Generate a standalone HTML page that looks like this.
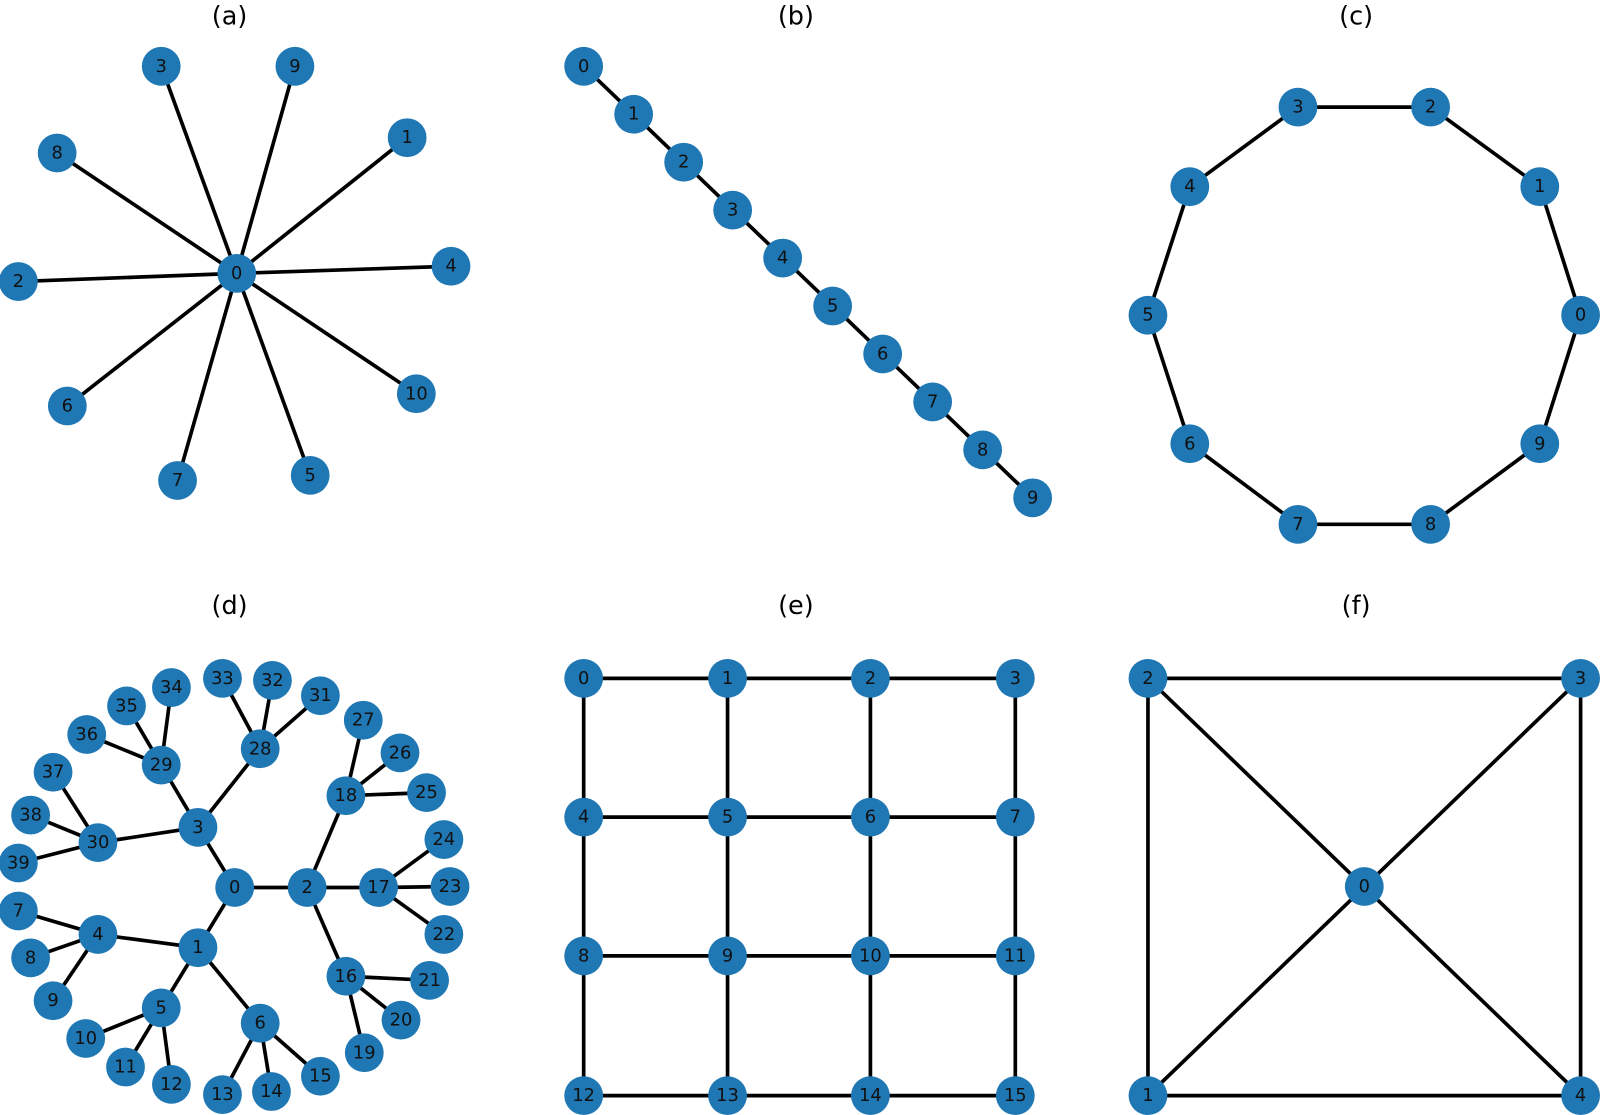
<!DOCTYPE html>
<html><head><meta charset="utf-8"><style>
html,body{margin:0;padding:0;background:#fff;}
svg{display:block;}
.e line{stroke:#000;stroke-width:3.6;}
.n circle{fill:#1f77b4;}
.n text{font-family:"DejaVu Sans","Liberation Sans",sans-serif;font-size:17.5px;fill:#111;text-anchor:middle;dominant-baseline:central;}
.t{font-family:"DejaVu Sans","Liberation Sans",sans-serif;font-size:25px;fill:#000;text-anchor:middle;}
</style></head><body>
<svg width="1600" height="1115" viewBox="0 0 1568 1093" preserveAspectRatio="none" xmlns="http://www.w3.org/2000/svg">
<rect width="1568" height="1093" fill="#fff"/>
<text class="t" x="225" y="24">(a)</text>
<text class="t" x="780" y="24">(b)</text>
<text class="t" x="1329" y="24">(c)</text>
<text class="t" x="225" y="602">(d)</text>
<text class="t" x="780" y="602">(e)</text>
<text class="t" x="1329" y="602">(f)</text>
<g class="e">
<line x1="232" y1="268" x2="158" y2="65"/><line x1="232" y1="268" x2="289" y2="65"/><line x1="232" y1="268" x2="399" y2="135"/><line x1="232" y1="268" x2="56" y2="150"/><line x1="232" y1="268" x2="18" y2="276"/><line x1="232" y1="268" x2="442" y2="261"/><line x1="232" y1="268" x2="66" y2="398"/><line x1="232" y1="268" x2="408" y2="386"/><line x1="232" y1="268" x2="174" y2="471"/><line x1="232" y1="268" x2="304" y2="466"/>
<line x1="572" y1="65" x2="1012" y2="488"/>
<line x1="1549" y1="309" x2="1509" y2="183"/><line x1="1509" y1="183" x2="1402" y2="105"/><line x1="1402" y1="105" x2="1272" y2="105"/><line x1="1272" y1="105" x2="1166" y2="183"/><line x1="1166" y1="183" x2="1125" y2="309"/><line x1="1125" y1="309" x2="1166" y2="435"/><line x1="1166" y1="435" x2="1272" y2="514"/><line x1="1272" y1="514" x2="1402" y2="514"/><line x1="1402" y1="514" x2="1509" y2="435"/><line x1="1509" y1="435" x2="1549" y2="309"/>
<line x1="230" y1="870" x2="194" y2="929"/><line x1="230" y1="870" x2="301" y2="870"/><line x1="230" y1="870" x2="194" y2="811"/>
<line x1="194" y1="929" x2="96" y2="916"/><line x1="194" y1="929" x2="158" y2="988"/><line x1="194" y1="929" x2="255" y2="1003"/>
<line x1="96" y1="916" x2="18" y2="893"/><line x1="96" y1="916" x2="30" y2="939"/><line x1="96" y1="916" x2="52" y2="981"/>
<line x1="158" y1="988" x2="84" y2="1018"/><line x1="158" y1="988" x2="123" y2="1046"/><line x1="158" y1="988" x2="168" y2="1063"/>
<line x1="255" y1="1003" x2="218" y2="1073"/><line x1="255" y1="1003" x2="266" y2="1070"/><line x1="255" y1="1003" x2="314" y2="1055"/>
<line x1="301" y1="870" x2="339" y2="957"/><line x1="301" y1="870" x2="371" y2="870"/><line x1="301" y1="870" x2="339" y2="780"/>
<line x1="339" y1="957" x2="357" y2="1032"/><line x1="339" y1="957" x2="393" y2="1000"/><line x1="339" y1="957" x2="421" y2="961"/>
<line x1="371" y1="870" x2="435" y2="916"/><line x1="371" y1="870" x2="441" y2="869"/><line x1="371" y1="870" x2="435" y2="823"/>
<line x1="339" y1="780" x2="418" y2="777"/><line x1="339" y1="780" x2="392" y2="738"/><line x1="339" y1="780" x2="356" y2="706"/>
<line x1="194" y1="811" x2="255" y2="734"/><line x1="194" y1="811" x2="158" y2="750"/><line x1="194" y1="811" x2="96" y2="826"/>
<line x1="255" y1="734" x2="314" y2="682"/><line x1="255" y1="734" x2="267" y2="667"/><line x1="255" y1="734" x2="218" y2="665"/>
<line x1="158" y1="750" x2="168" y2="674"/><line x1="158" y1="750" x2="124" y2="692"/><line x1="158" y1="750" x2="85" y2="720"/>
<line x1="96" y1="826" x2="52" y2="757"/><line x1="96" y1="826" x2="30" y2="799"/><line x1="96" y1="826" x2="18" y2="846"/>
<line x1="572" y1="665" x2="995" y2="665"/><line x1="572" y1="801" x2="995" y2="801"/><line x1="572" y1="937" x2="995" y2="937"/><line x1="572" y1="1074" x2="995" y2="1074"/>
<line x1="572" y1="665" x2="572" y2="1074"/><line x1="713" y1="665" x2="713" y2="1074"/><line x1="853" y1="665" x2="853" y2="1074"/><line x1="995" y1="665" x2="995" y2="1074"/>
<line x1="1125" y1="665" x2="1549" y2="665"/><line x1="1125" y1="665" x2="1125" y2="1074"/><line x1="1549" y1="665" x2="1549" y2="1074"/><line x1="1125" y1="1074" x2="1549" y2="1074"/>
<line x1="1125" y1="665" x2="1549" y2="1074"/><line x1="1549" y1="665" x2="1125" y2="1074"/>
</g>
<g class="n">
<circle cx="232" cy="268" r="19"/><text x="232" y="268">0</text>
<circle cx="158" cy="65" r="19"/><text x="158" y="65">3</text>
<circle cx="289" cy="65" r="19"/><text x="289" y="65">9</text>
<circle cx="399" cy="135" r="19"/><text x="399" y="135">1</text>
<circle cx="56" cy="150" r="19"/><text x="56" y="150">8</text>
<circle cx="18" cy="276" r="19"/><text x="18" y="276">2</text>
<circle cx="442" cy="261" r="19"/><text x="442" y="261">4</text>
<circle cx="66" cy="398" r="19"/><text x="66" y="398">6</text>
<circle cx="408" cy="386" r="19"/><text x="408" y="386">10</text>
<circle cx="174" cy="471" r="19"/><text x="174" y="471">7</text>
<circle cx="304" cy="466" r="19"/><text x="304" y="466">5</text>
<circle cx="572" cy="65" r="19"/><text x="572" y="65">0</text>
<circle cx="621" cy="112" r="19"/><text x="621" y="112">1</text>
<circle cx="670" cy="159" r="19"/><text x="670" y="159">2</text>
<circle cx="718" cy="206" r="19"/><text x="718" y="206">3</text>
<circle cx="767" cy="253" r="19"/><text x="767" y="253">4</text>
<circle cx="816" cy="300" r="19"/><text x="816" y="300">5</text>
<circle cx="865" cy="347" r="19"/><text x="865" y="347">6</text>
<circle cx="914" cy="394" r="19"/><text x="914" y="394">7</text>
<circle cx="963" cy="441" r="19"/><text x="963" y="441">8</text>
<circle cx="1012" cy="488" r="19"/><text x="1012" y="488">9</text>
<circle cx="1549" cy="309" r="19"/><text x="1549" y="309">0</text>
<circle cx="1509" cy="183" r="19"/><text x="1509" y="183">1</text>
<circle cx="1402" cy="105" r="19"/><text x="1402" y="105">2</text>
<circle cx="1272" cy="105" r="19"/><text x="1272" y="105">3</text>
<circle cx="1166" cy="183" r="19"/><text x="1166" y="183">4</text>
<circle cx="1125" cy="309" r="19"/><text x="1125" y="309">5</text>
<circle cx="1166" cy="435" r="19"/><text x="1166" y="435">6</text>
<circle cx="1272" cy="514" r="19"/><text x="1272" y="514">7</text>
<circle cx="1402" cy="514" r="19"/><text x="1402" y="514">8</text>
<circle cx="1509" cy="435" r="19"/><text x="1509" y="435">9</text>
<circle cx="230" cy="870" r="19"/><text x="230" y="870">0</text>
<circle cx="194" cy="929" r="19"/><text x="194" y="929">1</text>
<circle cx="301" cy="870" r="19"/><text x="301" y="870">2</text>
<circle cx="194" cy="811" r="19"/><text x="194" y="811">3</text>
<circle cx="96" cy="916" r="19"/><text x="96" y="916">4</text>
<circle cx="158" cy="988" r="19"/><text x="158" y="988">5</text>
<circle cx="255" cy="1003" r="19"/><text x="255" y="1003">6</text>
<circle cx="18" cy="893" r="19"/><text x="18" y="893">7</text>
<circle cx="30" cy="939" r="19"/><text x="30" y="939">8</text>
<circle cx="52" cy="981" r="19"/><text x="52" y="981">9</text>
<circle cx="84" cy="1018" r="19"/><text x="84" y="1018">10</text>
<circle cx="123" cy="1046" r="19"/><text x="123" y="1046">11</text>
<circle cx="168" cy="1063" r="19"/><text x="168" y="1063">12</text>
<circle cx="218" cy="1073" r="19"/><text x="218" y="1073">13</text>
<circle cx="266" cy="1070" r="19"/><text x="266" y="1070">14</text>
<circle cx="314" cy="1055" r="19"/><text x="314" y="1055">15</text>
<circle cx="339" cy="957" r="19"/><text x="339" y="957">16</text>
<circle cx="371" cy="870" r="19"/><text x="371" y="870">17</text>
<circle cx="339" cy="780" r="19"/><text x="339" y="780">18</text>
<circle cx="357" cy="1032" r="19"/><text x="357" y="1032">19</text>
<circle cx="393" cy="1000" r="19"/><text x="393" y="1000">20</text>
<circle cx="421" cy="961" r="19"/><text x="421" y="961">21</text>
<circle cx="435" cy="916" r="19"/><text x="435" y="916">22</text>
<circle cx="441" cy="869" r="19"/><text x="441" y="869">23</text>
<circle cx="435" cy="823" r="19"/><text x="435" y="823">24</text>
<circle cx="418" cy="777" r="19"/><text x="418" y="777">25</text>
<circle cx="392" cy="738" r="19"/><text x="392" y="738">26</text>
<circle cx="356" cy="706" r="19"/><text x="356" y="706">27</text>
<circle cx="255" cy="734" r="19"/><text x="255" y="734">28</text>
<circle cx="158" cy="750" r="19"/><text x="158" y="750">29</text>
<circle cx="96" cy="826" r="19"/><text x="96" y="826">30</text>
<circle cx="314" cy="682" r="19"/><text x="314" y="682">31</text>
<circle cx="267" cy="667" r="19"/><text x="267" y="667">32</text>
<circle cx="218" cy="665" r="19"/><text x="218" y="665">33</text>
<circle cx="168" cy="674" r="19"/><text x="168" y="674">34</text>
<circle cx="124" cy="692" r="19"/><text x="124" y="692">35</text>
<circle cx="85" cy="720" r="19"/><text x="85" y="720">36</text>
<circle cx="52" cy="757" r="19"/><text x="52" y="757">37</text>
<circle cx="30" cy="799" r="19"/><text x="30" y="799">38</text>
<circle cx="18" cy="846" r="19"/><text x="18" y="846">39</text>
<circle cx="572" cy="665" r="19"/><text x="572" y="665">0</text>
<circle cx="713" cy="665" r="19"/><text x="713" y="665">1</text>
<circle cx="853" cy="665" r="19"/><text x="853" y="665">2</text>
<circle cx="995" cy="665" r="19"/><text x="995" y="665">3</text>
<circle cx="572" cy="801" r="19"/><text x="572" y="801">4</text>
<circle cx="713" cy="801" r="19"/><text x="713" y="801">5</text>
<circle cx="853" cy="801" r="19"/><text x="853" y="801">6</text>
<circle cx="995" cy="801" r="19"/><text x="995" y="801">7</text>
<circle cx="572" cy="937" r="19"/><text x="572" y="937">8</text>
<circle cx="713" cy="937" r="19"/><text x="713" y="937">9</text>
<circle cx="853" cy="937" r="19"/><text x="853" y="937">10</text>
<circle cx="995" cy="937" r="19"/><text x="995" y="937">11</text>
<circle cx="572" cy="1074" r="19"/><text x="572" y="1074">12</text>
<circle cx="713" cy="1074" r="19"/><text x="713" y="1074">13</text>
<circle cx="853" cy="1074" r="19"/><text x="853" y="1074">14</text>
<circle cx="995" cy="1074" r="19"/><text x="995" y="1074">15</text>
<circle cx="1337" cy="869" r="19"/><text x="1337" y="869">0</text>
<circle cx="1125" cy="1074" r="19"/><text x="1125" y="1074">1</text>
<circle cx="1125" cy="665" r="19"/><text x="1125" y="665">2</text>
<circle cx="1549" cy="665" r="19"/><text x="1549" y="665">3</text>
<circle cx="1549" cy="1074" r="19"/><text x="1549" y="1074">4</text>
</g>
</svg>
</body></html>
